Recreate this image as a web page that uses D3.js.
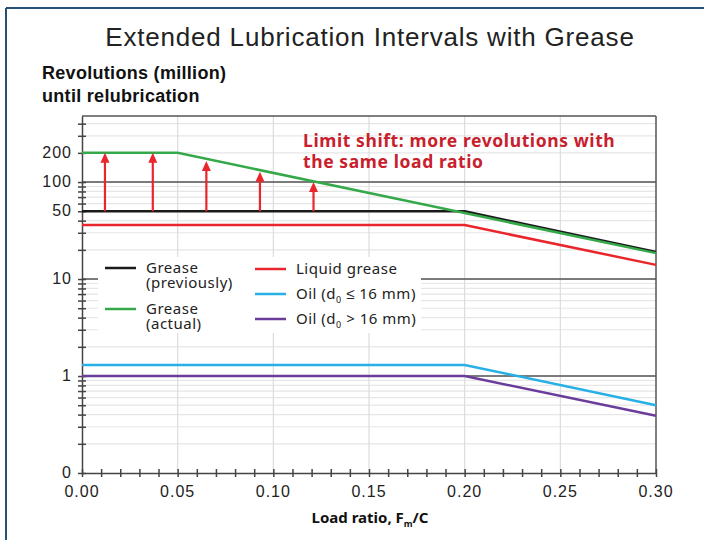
<!DOCTYPE html>
<html>
<head>
<meta charset="utf-8">
<script src="https://cdn.jsdelivr.net/npm/d3@7"></script>
<style>
  body { margin: 0; background: #fff; }
  svg { display: block; }
  .tick-label { font-family: "Liberation Sans", Arial, sans-serif; font-size: 16px; letter-spacing: 1px; fill: #222; }
</style>
</head>
<body>
<div class="chart"></div>
<script>
// load ratio breakpoints and revolutions (million) for each lubricant
const greasePrevX = [0, 0.20, 0.30];
const greasePrevY = [50, 50, 19];
const greaseActX = [0, 0.05, 0.30];
const greaseActY = [200, 200, 18.5];
const liquidX = [0, 0.20, 0.30];
const liquidY = [36, 36, 14];
const oilSmallX = [0, 0.20, 0.30];
const oilSmallY = [1.3, 1.3, 0.5];
const oilLargeX = [0, 0.20, 0.30];
const oilLargeY = [1, 1, 0.39];

// red arrows: position, start and tip
const arrowX = [0.012, 0.037, 0.065, 0.093, 0.121];
const arrowFrom = [50, 50, 50, 50, 50];
const arrowTo = [200, 200, 165, 128, 100];

const xTicks = [0, 0.05, 0.10, 0.15, 0.20, 0.25, 0.30];
const yTicks = [0.1, 1, 10, 50, 100, 200];
const yTickText = ["0", "1", "10", "50", "100", "200"];

const W = 704, H = 540;
const plot = {left: 82, right: 656, top: 116, bottom: 473};

const svg = d3.select(".chart").append("svg")
    .attr("width", W)
    .attr("height", H);

// frame of the picture
svg.append("line").attr("x1", 6).attr("x2", W).attr("y1", 8).attr("y2", 8)
    .attr("stroke", "#24507a").attr("stroke-width", 2);
svg.append("line").attr("x1", 6).attr("x2", 6).attr("y1", 8).attr("y2", H)
    .attr("stroke", "#24507a").attr("stroke-width", 2);

svg.append("text")
    .attr("x", 370).attr("y", 46)
    .attr("text-anchor", "middle")
    .style("font-family", "'Liberation Sans', Arial, sans-serif")
    .style("font-size", "26px")
    .style("letter-spacing", "0.8px")
    .style("fill", "#222")
    .text("Extended Lubrication Intervals with Grease");

const ylab = svg.append("text")
    .style("font-family", "'Liberation Sans', Arial, sans-serif")
    .style("font-size", "18px")
    .style("letter-spacing", "0.3px")
    .style("font-weight", "bold")
    .style("fill", "#111");
ylab.append("tspan").attr("x", 42).attr("y", 79).text("Revolutions (million)");
ylab.append("tspan").attr("x", 42).attr("y", 102).text("until relubrication");

const x = d3.scaleLinear().domain([0, 0.30]).range([plot.left, plot.right]);
const y = d3.scaleLog().domain([0.1, 480]).range([plot.bottom, plot.top]);

// minor log grid
const minor = y.ticks().filter(v => v > 0.1 && v < 480);
svg.append("g").selectAll("line")
    .data(minor)
  .enter().append("line")
    .attr("x1", plot.left).attr("x2", plot.right)
    .attr("y1", d => y(d)).attr("y2", d => y(d))
    .attr("stroke", "#e6e6e6").attr("stroke-width", 1.2);

// vertical grid
svg.append("g").selectAll("line")
    .data(xTicks.slice(1, -1))
  .enter().append("line")
    .attr("x1", d => x(d)).attr("x2", d => x(d))
    .attr("y1", plot.top).attr("y2", plot.bottom)
    .attr("stroke", "#dcdcdc").attr("stroke-width", 1.2);

// decade lines
svg.append("g").selectAll("line")
    .data([1, 10, 100])
  .enter().append("line")
    .attr("x1", plot.left).attr("x2", plot.right)
    .attr("y1", d => y(d)).attr("y2", d => y(d))
    .attr("stroke", "#555").attr("stroke-width", 1.5);

// plot frame top / right
svg.append("line").attr("x1", plot.left).attr("x2", plot.right)
    .attr("y1", plot.top).attr("y2", plot.top)
    .attr("stroke", "#555").attr("stroke-width", 1.5);
svg.append("line").attr("x1", plot.right).attr("x2", plot.right)
    .attr("y1", plot.top).attr("y2", plot.bottom)
    .attr("stroke", "#555").attr("stroke-width", 1.5);

// legend box hides the grid
svg.append("rect")
    .attr("x", 98).attr("y", 257).attr("width", 323).attr("height", 76)
    .attr("fill", "#fff");

// y axis
const yAxis = d3.axisLeft(y)
    .tickValues(minor.concat([0.1]))
    .tickSize(0)
    .tickFormat("");
const gy = svg.append("g")
    .attr("transform", "translate(" + plot.left + ",0)")
    .call(yAxis);
gy.select(".domain").attr("stroke", "#444").attr("stroke-width", 1.5);
gy.selectAll(".tick line")
    .attr("x1", -4).attr("x2", 4)
    .attr("stroke", "#444").attr("stroke-width", 1.5);

svg.append("g").selectAll("text")
    .data(yTicks)
  .enter().append("text")
    .attr("class", "tick-label")
    .attr("x", plot.left - 10)
    .attr("y", d => y(d) + 5)
    .attr("text-anchor", "end")
    .text((d, i) => yTickText[i]);

// x axis
const xAxis = d3.axisBottom(x)
    .tickValues(d3.range(0, 31).map(i => i / 100))
    .tickSize(0)
    .tickFormat("");
const gx = svg.append("g")
    .attr("transform", "translate(0," + plot.bottom + ")")
    .call(xAxis);
gx.select(".domain").attr("stroke", "#444").attr("stroke-width", 1.5);
gx.selectAll(".tick line")
    .attr("y1", -4).attr("y2", 4)
    .attr("stroke", "#444").attr("stroke-width", 1.5);

svg.append("g").selectAll("text")
    .data(xTicks)
  .enter().append("text")
    .attr("class", "tick-label")
    .attr("x", d => x(d))
    .attr("y", plot.bottom + 24)
    .attr("text-anchor", "middle")
    .text(d => d3.format(".2f")(d));

const xlab = svg.append("text")
    .attr("x", 370).attr("y", 523)
    .attr("text-anchor", "middle")
    .style("font-family", "'Noto Sans', sans-serif")
    .style("font-size", "15px")
    .style("font-weight", "bold")
    .style("fill", "#111");
xlab.append("tspan").text("Load ratio, F");
xlab.append("tspan").attr("dy", 4).style("font-size", "9px").text("m");
xlab.append("tspan").attr("dy", -4).text("/C");

// series
const line = d3.line()
    .x(d => x(d[0]))
    .y(d => y(d[1]));

const series = [
  {xs: oilLargeX, ys: oilLargeY, color: "#6a3d9a"},
  {xs: oilSmallX, ys: oilSmallY, color: "#27b0e6"},
  {xs: liquidX, ys: liquidY, color: "#e8262c"},
  {xs: greasePrevX, ys: greasePrevY, color: "#1a1a1a"},
  {xs: greaseActX, ys: greaseActY, color: "#35a94a"}
];

svg.append("g").selectAll("path")
    .data(series)
  .enter().append("path")
    .attr("d", s => line(s.xs.map((v, i) => [v, s.ys[i]])))
    .attr("fill", "none")
    .attr("stroke", s => s.color)
    .attr("stroke-width", 2.5);

// arrows
const arrows = svg.append("g").selectAll("g")
    .data(arrowX)
  .enter().append("g");
arrows.append("line")
    .attr("x1", d => x(d)).attr("x2", d => x(d))
    .attr("y1", (d, i) => y(arrowFrom[i]))
    .attr("y2", (d, i) => y(arrowTo[i]) + 8)
    .attr("stroke", "#e8262c").attr("stroke-width", 2.2);
arrows.append("path")
    .attr("d", (d, i) => {
      const cx = x(d), ty = y(arrowTo[i]);
      return "M" + cx + "," + ty + "L" + (cx - 4.5) + "," + (ty + 10) + "L" + (cx + 4.5) + "," + (ty + 10) + "Z";
    })
    .attr("fill", "#e8262c");

// annotation
const note = svg.append("text")
    .style("font-family", "'Noto Sans', sans-serif")
    .style("font-size", "17.5px")
    .style("letter-spacing", "0.6px")
    .style("font-weight", "bold")
    .style("fill", "#c8202c");
note.append("tspan").attr("x", 303).attr("y", 147).text("Limit shift: more revolutions with");
note.append("tspan").attr("x", 303).attr("y", 168).text("the same load ratio");

// legend
const legendItems = [
  {color: "#1a1a1a", x: 105, y: 268, lines: ["Grease", "(previously)"]},
  {color: "#35a94a", x: 105, y: 309, lines: ["Grease", "(actual)"]},
  {color: "#e8262c", x: 255, y: 269, lines: ["Liquid grease"]},
  {color: "#27b0e6", x: 255, y: 294, lines: ["Oil (d", "0", "≤ 16 mm)"], sub: true},
  {color: "#6a3d9a", x: 255, y: 319, lines: ["Oil (d", "0", "> 16 mm)"], sub: true}
];
const leg = svg.append("g").selectAll("g")
    .data(legendItems)
  .enter().append("g");
leg.append("line")
    .attr("x1", d => d.x).attr("x2", d => d.x + 31)
    .attr("y1", d => d.y).attr("y2", d => d.y)
    .attr("stroke", d => d.color).attr("stroke-width", 2.5);
leg.each(function(d) {
  const t = d3.select(this).append("text")
      .style("font-family", "'Noto Sans', sans-serif")
      .style("font-size", "15px")
      .style("letter-spacing", "0.5px")
      .style("fill", "#222");
  if (d.sub) {
    t.append("tspan").attr("x", d.x + 41).attr("y", d.y + 5).text(d.lines[0]);
    t.append("tspan").attr("dy", 4).style("font-size", "9px").text(d.lines[1]);
    t.append("tspan").attr("dy", -4).text(" " + d.lines[2]);
  } else {
    d.lines.forEach((s, i) => {
      t.append("tspan").attr("x", d.x + 41).attr("y", d.y + 5 + i * 15).text(s);
    });
  }
});
</script>
</body>
</html>
